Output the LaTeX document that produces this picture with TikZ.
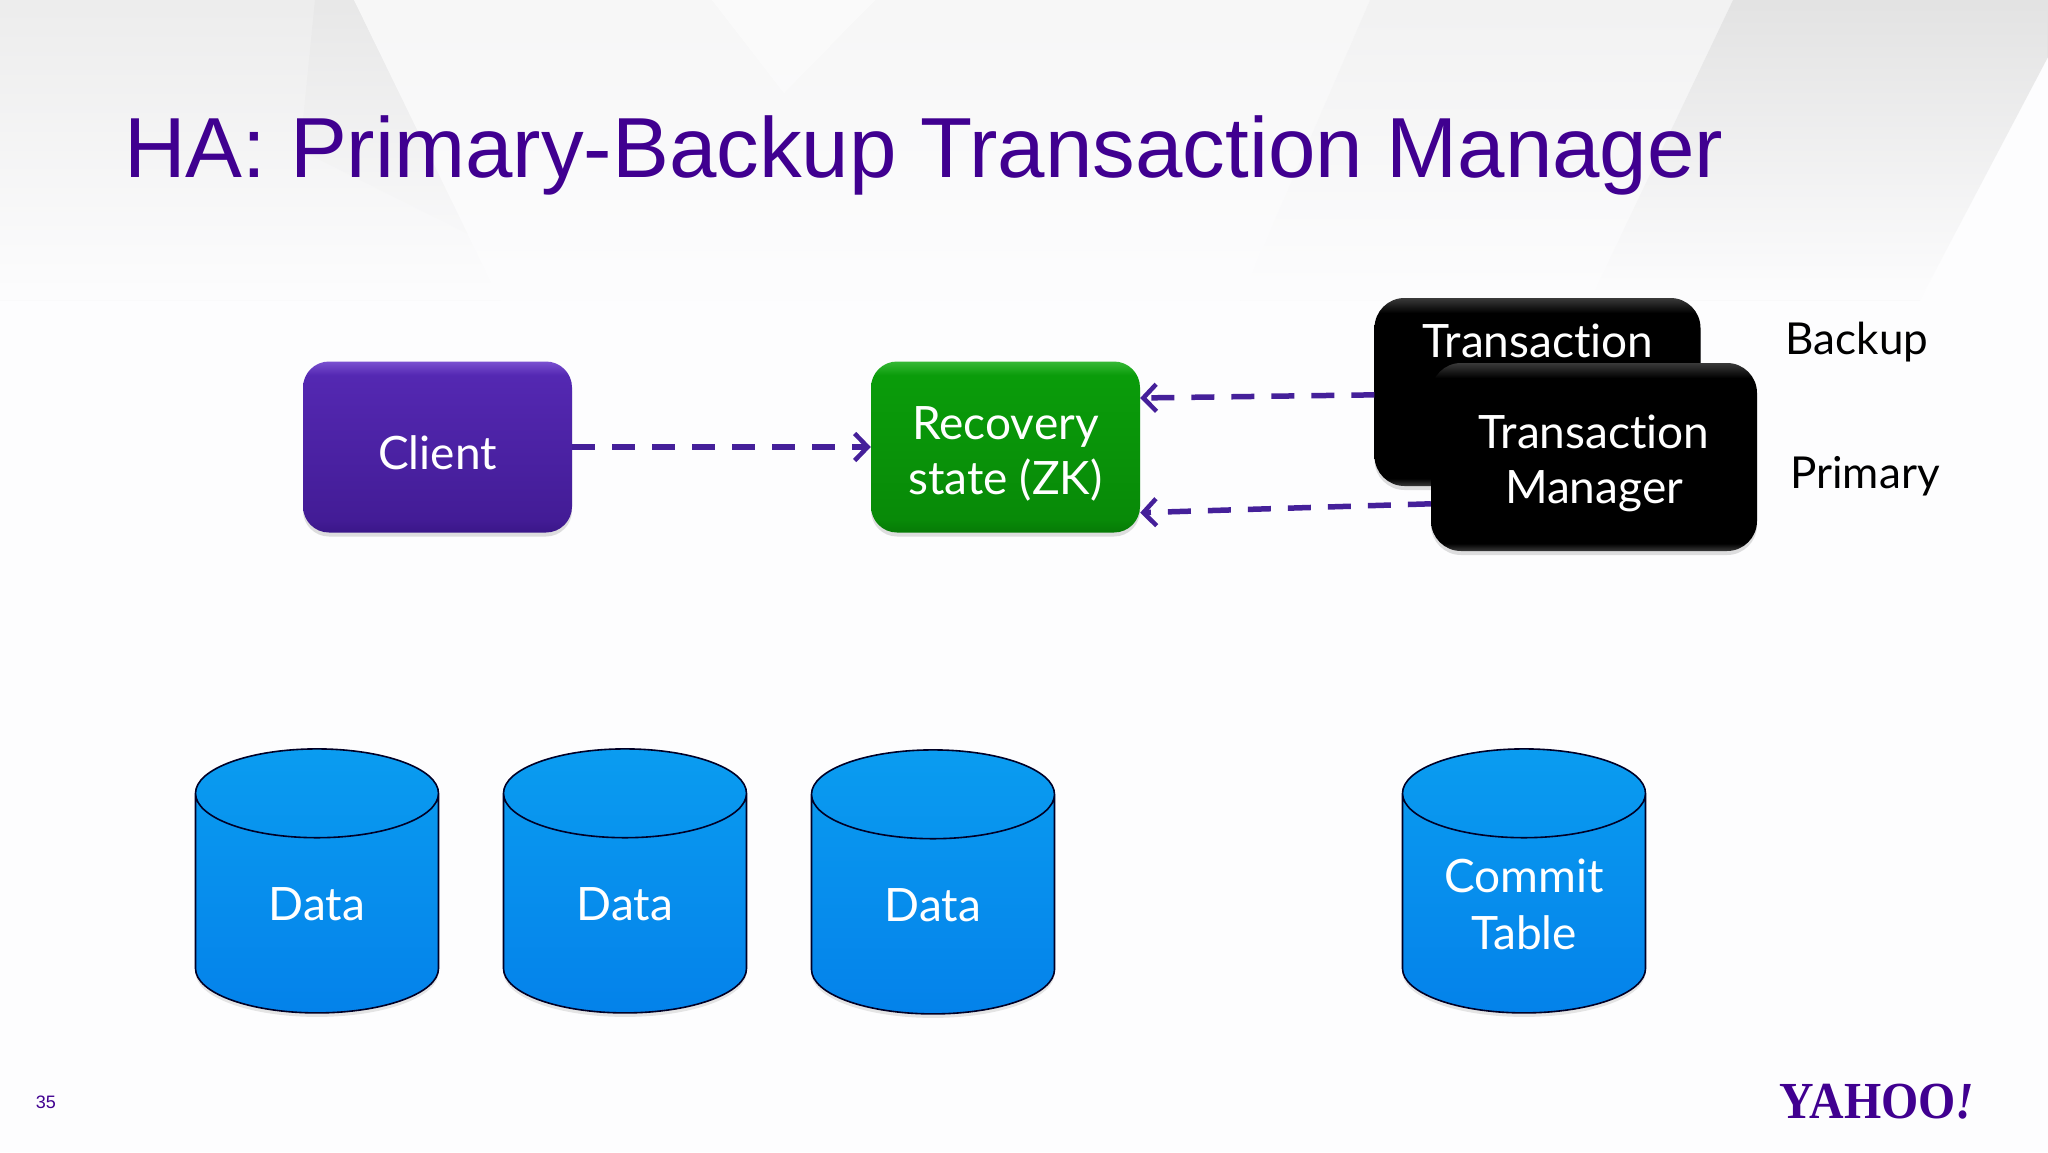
\documentclass[tikz,border=0pt]{standalone}
\usepackage{fontspec}
\setmainfont[Ligatures=NoCommon]{Lato}
\newfontfamily\titlefont{Liberation Sans}
\newfontfamily\yahoofont{Liberation Serif}
\usetikzlibrary{shapes.geometric, arrows.meta, shadows, fadings}
\definecolor{yahoopurple}{HTML}{400090}
\definecolor{arrowpurple}{HTML}{45209A}
\definecolor{slidebg}{HTML}{FDFDFE}
\definecolor{clientedge}{HTML}{3A1688}
\definecolor{clientlow}{HTML}{431C96}
\definecolor{clienthigh}{HTML}{5428B2}
\definecolor{clientshine}{HTML}{7A50D0}
\definecolor{recoveryedge}{HTML}{067A06}
\definecolor{recoverylow}{HTML}{088A08}
\definecolor{recoveryhigh}{HTML}{0A9C0A}
\definecolor{recoveryshine}{HTML}{36B836}
\definecolor{managerrim}{HTML}{3A3A3A}
\definecolor{storetop}{HTML}{0A9CF0}
\definecolor{storelow}{HTML}{0482EA}
\pgfdeclareverticalshading{clientshade}{100bp}{color(0bp)=(clientedge); color(25bp)=(clientedge); color(29bp)=(clientlow); color(71bp)=(clienthigh); color(75bp)=(clientshine); color(100bp)=(clientshine)}
\pgfdeclareverticalshading{recoveryshade}{100bp}{color(0bp)=(recoveryedge); color(25bp)=(recoveryedge); color(29bp)=(recoverylow); color(71bp)=(recoveryhigh); color(75bp)=(recoveryshine); color(100bp)=(recoveryshine)}
\pgfdeclareverticalshading{managershade}{100bp}{color(0bp)=(managerrim); color(25bp)=(managerrim); color(27bp)=(black); color(71bp)=(black); color(75bp)=(managerrim); color(100bp)=(managerrim)}
\newcommand{\lowerline}{\rule{0pt}{46pt}}
\tikzstyle{statebox} = [rectangle, rounded corners=26pt,
minimum width=269pt,
minimum height=171pt,
align=center,
text=white,
font=\fontsize{46}{55}\selectfont,
shade,
drop shadow={opacity=.25, shadow xshift=0pt, shadow yshift=-4pt}]
\tikzstyle{managerbox} = [rectangle, rounded corners=30pt,
minimum width=326pt,
minimum height=188pt,
align=center,
text=white,
font=\fontsize{46}{55}\selectfont,
shade, shading=managershade,
drop shadow={opacity=.25, shadow xshift=0pt, shadow yshift=-4pt}]
\tikzstyle{store} = [cylinder, shape border rotate=90, aspect=1.11,
text width=80pt,
minimum width=243pt,
minimum height=264pt,
inner sep=0pt,
draw=black!85!blue, line width=1.6pt,
top color=storetop, bottom color=storelow,
drop shadow={opacity=.2, shadow xshift=0pt, shadow yshift=-4pt}]
\tikzstyle{storetext} = [align=center, text=white, yshift=-1pt, font=\fontsize{46}{57}\selectfont]
\tikzstyle{sidetext} = [font=\fontsize{44}{50}\selectfont, text=black]
\tikzstyle{flow} = [draw=arrowpurple, line width=5.5pt, dash pattern=on 23pt off 17pt,
-{Straight Barb[length=13pt, width=27pt, line width=4.5pt]}]

\begin{document}
\begin{tikzpicture}[x=1pt, y=-1pt, node distance=568pt]
		\useasboundingbox (0,0) rectangle (2048,1152);
		\fill [slidebg] (0,0) rectangle (2048,1152);
		\fill [black!7] (0,0) -- (354,0) -- (500,300) -- (0,300) -- cycle;
		\fill [black!9] (315,0) -- (354,0) -- (470,235) -- (300,150) -- cycle;
		\fill [black!3] (354,0) -- (712,0) -- (784,93) -- (875,0) -- (1370,0) -- (1240,300) -- (500,300) -- cycle;
		\fill [black!2] (712,0) -- (784,93) -- (875,0) -- cycle;
		\fill [black!5] (1370,0) -- (1733,0) -- (1590,300) -- (1240,300) -- cycle;
		\fill [black!11] (1733,0) -- (2048,0) -- (2048,57) -- (1920,300) -- (1590,300) -- cycle;
		\fill [slidebg, path fading=north] (0,0) rectangle (2048,300);

		\node (title) [anchor=base west, inner sep=0pt, text=yahoopurple] at (124,177) {\titlefont\fontsize{85.3}{87}\selectfont HA: Primary-Backup Transaction Manager};

		\node (client) [statebox, shading=clientshade] at (437.5,447) {\lowerline Client};
		\node (recovery) [statebox, shading=recoveryshade, right of=client] {\lowerline Recovery\\state (ZK)};
		\node (backup) [managerbox, right of=recovery, xshift=-36pt, yshift=55pt] {};
		\node (backuptext) [font=\fontsize{46}{55}\selectfont, text=white] at (1538,341) {Transaction};
		\node (primary) [managerbox] at (1594,457) {\lowerline Transaction\\Manager};
		\node (backuplabel) [sidetext] at (1857,342) {Backup};
		\node (primarylabel) [sidetext] at (1865,476) {Primary};

		\node (data1) [store, label={[storetext]center:Data}] at (317,903.5) {};
		\node (data2) [store, right of=data1, node distance=308pt, label={[storetext]center:Data}] {};
		\node (data3) [store, right of=data2, node distance=308pt, yshift=-1pt, label={[storetext]center:Data}] {};
		\node (commit) [store, right of=data3, node distance=591pt, yshift=1pt, label={[storetext]center:Commit\\Table}] {};

		\node (pagenum) [text=yahoopurple] at (46,1102) {\titlefont\fontsize{18}{18}\selectfont 35};
		\node (logo) [text=yahoopurple, inner sep=0pt] at (1877,1102) {\scalebox{0.92}[1]{\yahoofont\bfseries\fontsize{52}{52}\selectfont YAHOO{\itshape !}}};

		\draw [flow](client) -- (recovery);
		\draw [flow](backup.181) -- (recovery.20);
		\draw [flow](primary.196) -- (recovery.-26);
	\end{tikzpicture}
\end{document}
